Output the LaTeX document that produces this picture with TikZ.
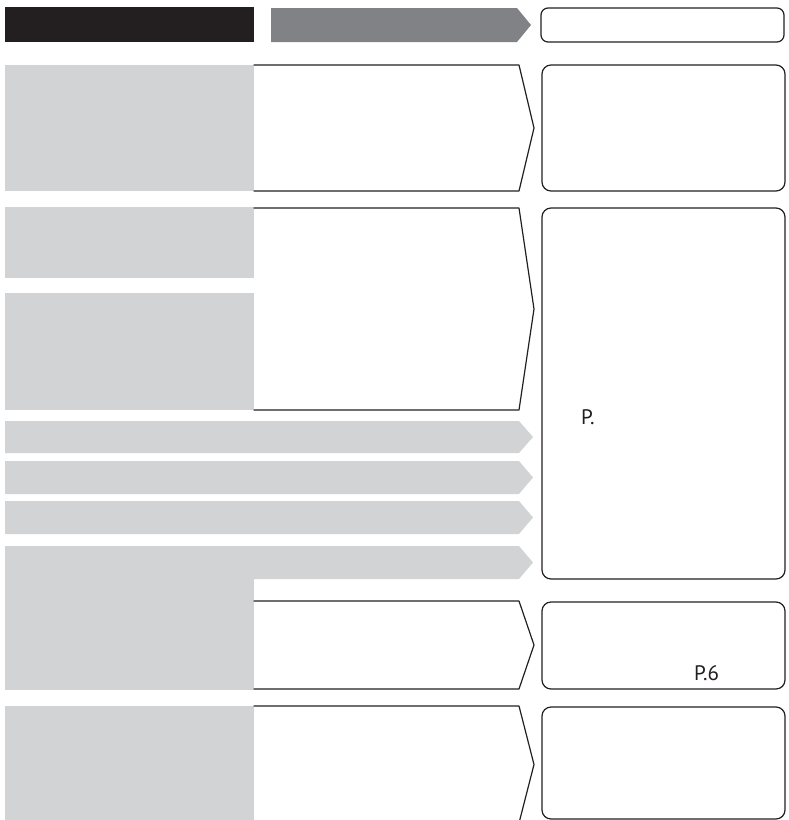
\documentclass[tikz,border=0pt]{standalone}
\usepackage{fontspec}
\setmainfont{PT Sans}
\definecolor{inkblack}{HTML}{231F20}
\definecolor{midgray}{HTML}{808285}
\definecolor{lightgray}{HTML}{D1D3D4}
\begin{document}
\begin{tikzpicture}[x=1pt,y=-1pt,line join=round,line cap=round,
	outline/.style={line width=1.2pt,draw=inkblack},
	roundbox/.style={outline,rounded corners=9pt},
	band/.style={fill=lightgray},
	pagenum/.style={anchor=base west,inner sep=0pt,font=\fontsize{21}{21}\selectfont,text=inkblack}]
	\useasboundingbox (0,0) rectangle (788,820);
	% header row
	\fill[inkblack] (5,7) rectangle (254,42);
	\fill[midgray] (271,8)--(517,8)--(531,25)--(517,42)--(271,42)--cycle;
	\draw[roundbox,rounded corners=7pt] (541,8) rectangle (784,42);
	% left grey blocks
	\fill[band] (5,65) rectangle (254,191);
	\fill[band] (5,207) rectangle (254,278);
	\fill[band] (5,293) rectangle (254,410);
	\fill[band] (5,706) rectangle (254,820);
	% grey arrows
	\foreach \t/\b in {421/453,461/494,501/534,546/579}
		\fill[band] (5,\t)--(519,\t)--(533,{(\t+\b)/2})--(519,\b)--(5,\b)--cycle;
	\fill[band] (5,579) rectangle (254,690);
	% white chevron boxes
	\foreach \t/\b in {65/191,208/410,601/689,706/823}
		\draw[outline] (254,\t)--(519,\t)--(534,{(\t+\b)/2})--(519,\b)--(254,\b);
	% right rounded boxes
	\draw[roundbox] (542,65) rectangle (785,191);
	\draw[roundbox] (542,208) rectangle (785,579);
	\draw[roundbox] (542,602) rectangle (785,689);
	\draw[roundbox] (542,707) rectangle (785,819);
	% page references
	\node[pagenum] (refA) at (581,424) {P.};
	\node[pagenum] (refB) at (694,680) {P.6};
\end{tikzpicture}
\end{document}
